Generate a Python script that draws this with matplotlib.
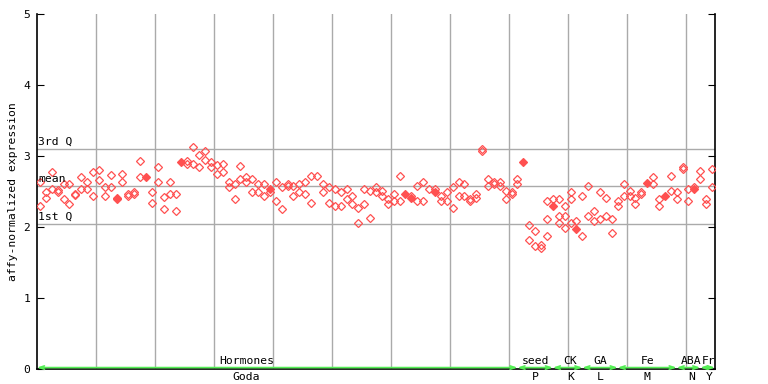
import matplotlib
matplotlib.use("Agg")
import matplotlib.pyplot as plt

# expression values per sample (replicates)
samples = [
    [2.63, 2.29], [2.49, 2.41], [2.78, 2.53], [2.52, 2.49], [2.60, 2.39],
    [2.60, 2.33], [2.47, 2.45], [2.71, 2.53], [2.64, 2.53], [2.77, 2.44],
    [2.80, 2.66], [2.57, 2.43], [2.73, 2.56], [2.41, 2.39], [2.74, 2.64],
    [2.46, 2.43], [2.49, 2.46], [2.93, 2.70], [2.71], [2.50, 2.34],
    [2.84, 2.63], [2.42, 2.26], [2.63, 2.47], [2.46, 2.22], [2.92],
    [2.93, 2.89], [3.13, 2.89], [3.02, 2.85], [3.07, 2.95], [2.91, 2.85],
    [2.88, 2.75], [2.89, 2.78], [2.63, 2.57], [2.61, 2.39], [2.86, 2.67],
    [2.71, 2.64], [2.68, 2.50], [2.60, 2.49], [2.60, 2.44], [2.53, 2.49],
    [2.63, 2.37], [2.57, 2.26], [2.61, 2.58], [2.58, 2.44], [2.61, 2.49],
    [2.64, 2.47], [2.72, 2.34], [2.72], [2.60, 2.49], [2.56, 2.34],
    [2.53, 2.30], [2.49, 2.29], [2.53, 2.39], [2.43, 2.32], [2.27, 2.06],
    [2.54, 2.33], [2.51, 2.12], [2.56, 2.50], [2.51, 2.44], [2.40, 2.32],
    [2.47, 2.36], [2.72, 2.36], [2.47], [2.41, 2.43], [2.58, 2.37],
    [2.64, 2.37], [2.53], [2.50, 2.53], [2.44, 2.36], [2.49, 2.36],
    [2.57, 2.27], [2.64, 2.43], [2.60, 2.43], [2.40, 2.37], [2.47, 2.41],
    [3.10, 3.07], [2.68, 2.58], [2.64, 2.60], [2.63, 2.58], [2.51, 2.39],
    [2.50, 2.47], [2.67, 2.61], [2.92], [2.03, 1.82], [1.94, 1.73],
    [1.74, 1.71], [2.36, 2.11, 1.88], [2.30, 2.39], [2.39, 2.15, 2.06], [2.30, 2.15, 1.98],
    [2.49, 2.39, 2.05], [1.97, 2.08], [2.44, 1.87], [2.58, 2.15], [2.23, 2.09],
    [2.49, 2.11], [2.41, 2.16], [2.11, 1.92], [2.37, 2.29], [2.60, 2.44],
    [2.51, 2.43], [2.41, 2.32], [2.50, 2.46], [2.62], [2.70, 2.61],
    [2.40, 2.30], [2.44], [2.72, 2.51], [2.49, 2.40], [2.85, 2.82],
    [2.54, 2.36], [2.54, 2.57], [2.79, 2.67], [2.39, 2.32], [2.81, 2.57],
]
# samples whose first value is drawn as a filled marker
filled = [13, 18, 24, 39, 62, 63, 67, 82, 87, 91, 103, 106, 111]

first_q = 2.04
mean_val = 2.58
third_q = 3.10

groups = ["Hormones", "seed", "CK", "GA", "Fe", "ABA", "Fr"]
group_codes = ["Goda", "P", "K", "L", "M", "N", "Y"]
group_edges = [0, 81.5, 87.5, 92.5, 98.5, 108.5, 112.5, 115]
label_x = [35.5, 84.5, 90.5, 95.5, 103.5, 111.0, 114.0]

red = "#ff5050"
grid_col = "#aaaaaa"
green = "#55ee55"
mono = "DejaVu Sans Mono"
fs = 8.2

fig = plt.figure(figsize=(7.68, 3.84), dpi=100)
ax = fig.add_axes([37 / 768, 15 / 384, 678 / 768, 355 / 384])

n = len(samples)
ax.set_xlim(0, n)
ax.set_ylim(0, 5)

for x in range(10, n, 10):
    ax.axvline(x, color=grid_col, lw=1, zorder=1)
for q in (first_q, mean_val, third_q):
    ax.axhline(q, color=grid_col, lw=1, zorder=1)

xs_open, ys_open, xs_fill, ys_fill = [], [], [], []
for i, vals in enumerate(samples):
    for j, v in enumerate(vals):
        if j == 0 and i in filled:
            xs_fill.append(i + 0.5)
            ys_fill.append(v)
        else:
            xs_open.append(i + 0.5)
            ys_open.append(v)
ax.plot(xs_open, ys_open, "D", ms=4.0, mfc="none", mec=red, mew=0.9, zorder=3)
ax.plot(xs_fill, ys_fill, "D", ms=4.2, mfc=red, mec=red, mew=0.9, zorder=3)

ax.text(0.2, third_q + 0.03, "3rd Q", family=mono, fontsize=fs, va="bottom")
ax.text(0.2, mean_val + 0.03, "mean", family=mono, fontsize=fs, va="bottom")
ax.text(0.2, first_q + 0.03, "1st Q", family=mono, fontsize=fs, va="bottom")

# group arrows along the bottom
for k in range(len(groups)):
    a, b = group_edges[k], group_edges[k + 1]
    ax.annotate("", xy=(b, 0.02), xytext=(a, 0.02), xycoords="data",
                arrowprops=dict(arrowstyle="<->,head_length=0.35,head_width=0.12",
                                color=green, lw=1.2, shrinkA=0, shrinkB=0),
                annotation_clip=False, zorder=4)
    ax.text(label_x[k], 0.045, groups[k], family=mono, fontsize=fs,
            ha="center", va="bottom")
    ax.text(label_x[k], -0.04, group_codes[k], family=mono, fontsize=fs,
            ha="center", va="top")

ax.spines["top"].set_visible(False)
for s in ("left", "right", "bottom"):
    ax.spines[s].set_linewidth(1.2)
ax.set_xticks([])
ax.set_yticks(range(6))
ax.tick_params(axis="y", direction="in", length=5, right=True, labelsize=fs, pad=5)
for lab in ax.get_yticklabels():
    lab.set_family(mono)
ax.set_ylabel("affy-normalized expression", family=mono, fontsize=fs, labelpad=4)

fig.savefig("out.png", dpi=100)
